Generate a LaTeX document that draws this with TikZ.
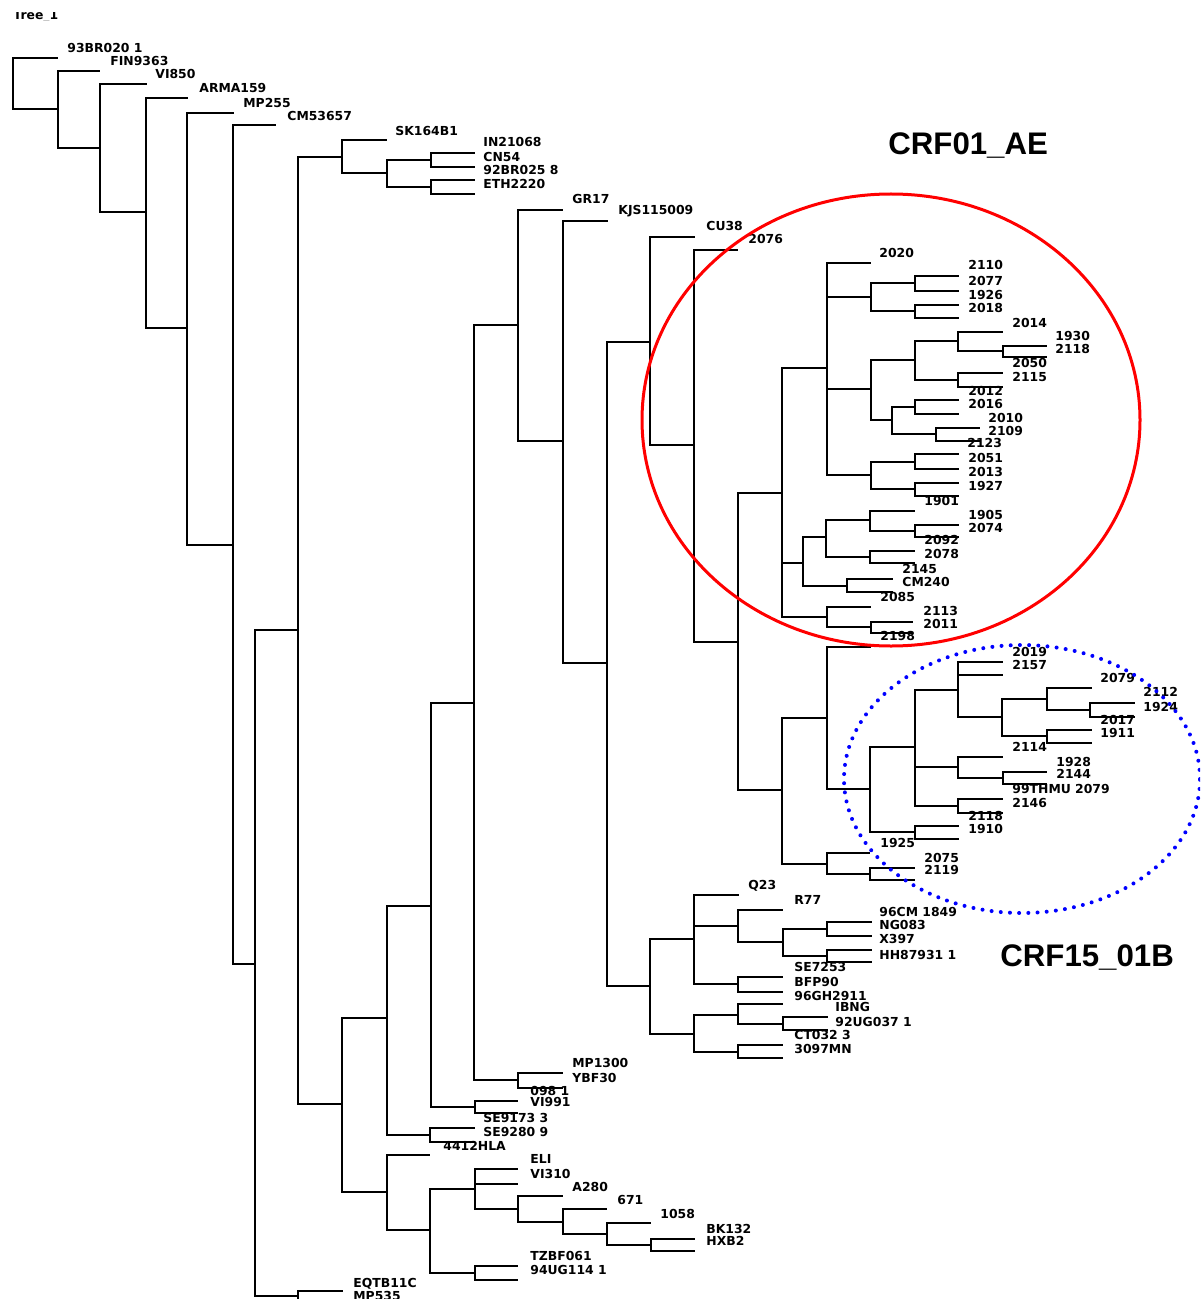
\documentclass[tikz,border=0pt]{standalone}
\usepackage{fontspec}
\newfontfamily\labfont{DejaVu Sans}
\newfontfamily\crffont{Liberation Sans}
\begin{document}
\begin{tikzpicture}[x=0.5pt,y=-0.5pt,
  br/.style={line width=0.85pt},
  lbl/.style={anchor=west, inner sep=0pt, font=\labfont\bfseries\fontsize{6.2}{7}\selectfont, text height=4.5pt, text depth=0pt},
  crf/.style={anchor=base west, inner sep=0pt, font=\crffont\bfseries\fontsize{15.6}{18}\selectfont}]
\useasboundingbox (0,0) rectangle (1200,1299);
\clip (0,0) rectangle (1200,1299);
\fill[white] (0,0) rectangle (1200,1299);
% internal nodes
\foreach \n/\x/\y in {r0/13/83,r1/58/109,r2/100/148,r3/146/212,r4/187/328,r5/233/545,r6/255/964,r7/298/630,r8/298/1296,
 a1/342/157,a2/387/173,a3/431/160,a4/431/187,b1/342/1104,b2/387/1018,b3/387/1192,c1/431/906,c2/430/1135,
 d1/474/703,d2/475/1107,e1/518/325,e2/518/1080,f1/563/441,g1/607/663,h1/650/342,h2/650/986,i1/694/445,j1/738/642,
 k1/782/493,k2/782/790,m1/827/368,m2/803/563,m3/827/617,n1/871/297,n2/871/389,n3/871/475,o1/915/283,o2/915/311,
 o3/915/360,o4/892/420,o5/915/407,o6/936/434,o7/915/462,o8/915/489,p1/958/341,p2/958/380,q1/1003/351,
 s1/826/537,s2/847/586,t1/870/520,t2/870/557,u1/915/531,v1/871/627,w1/827/718,w2/827/864,x1/870/789,
 y1/915/747,y2/915/832,z1/958/690,z2/958/767,z3/958/806,z4/1002/717,aa1/1047/699,aa2/1047/736,ab1/1090/710,
 ac1/1003/778,ad1/870/874,ae1/694/939,ae2/694/1034,af1/738/926,af2/738/984,ag1/783/942,ah1/827/929,ah2/827/956,
 ai1/738/1015,ai2/738/1052,aj1/783/1024,ak1/430/1230,al1/475/1189,al2/475/1273,am1/518/1209,an1/563/1222,
 ao1/607/1234,ap1/651/1245}
 {\coordinate (\n) at (\x,\y);}
% internal branches
\foreach \p/\c in {r0/r1,r1/r2,r2/r3,r3/r4,r4/r5,r5/r6,r6/r7,r6/r8,r7/a1,r7/b1,a1/a2,a2/a3,a2/a4,b1/b2,b1/b3,
 b2/c1,b2/c2,c1/d1,c1/d2,d1/e1,d1/e2,e1/f1,f1/g1,g1/h1,g1/h2,h1/i1,i1/j1,j1/k1,j1/k2,k1/m1,k1/m2,k1/m3,
 m1/n1,m1/n2,m1/n3,n1/o1,n1/o2,n2/o3,n2/o4,o3/p1,o3/p2,p1/q1,o4/o5,o4/o6,n3/o7,n3/o8,m2/s1,m2/s2,s1/t1,s1/t2,
 t1/u1,m3/v1,k2/w1,k2/w2,w1/x1,x1/y1,x1/y2,y1/z1,y1/z2,y1/z3,z1/z4,z4/aa1,z4/aa2,aa1/ab1,z2/ac1,w2/ad1,
 h2/ae1,h2/ae2,ae1/af1,ae1/af2,af1/ag1,ag1/ah1,ag1/ah2,ae2/ai1,ae2/ai2,ai1/aj1,b3/ak1,ak1/al1,ak1/al2,
 al1/am1,am1/an1,an1/ao1,ao1/ap1}
 {\draw[br] (\p) |- (\c);}
% leaves
\foreach \p/\x/\y [count=\i] in {r0/58/58,r1/100/71,r2/147/84,r3/188/98,r4/234/113,r5/276/125,r8/343/1291,r8/343/1302,
 a1/387/140,a3/475/153,a3/475/167,a4/475/180,a4/475/194,c2/475/1128,c2/475/1142,d2/518/1101,d2/518/1113,
 e2/563/1073,e2/563/1088,e1/563/210,f1/608/221,h1/695/237,i1/738/250,m1/871/263,o1/959/276,o1/959/291,
 o2/959/305,o2/959/318,p1/1003/332,q1/1047/346,q1/1047/357,p2/1003/373,p2/1003/387,o5/959/400,o5/959/414,
 o6/980/428,o6/980/441,o7/959/454,o7/959/469,o8/959/483,o8/959/496,t1/915/511,u1/959/525,u1/959/537,
 t2/915/551,t2/915/563,s2/893/579,s2/893/592,m3/871/607,v1/913/622,v1/913/633,w1/871/647,z1/1003/662,
 z1/1003/675,aa1/1092/688,ab1/1135/703,ab1/1135/717,aa2/1092/730,aa2/1092/743,z2/1003/757,ac1/1047/772,
 ac1/1047/784,z3/1003/799,z3/1003/813,y2/959/826,y2/959/839,w2/870/853,ad1/915/868,ad1/915/880,ae1/739/895,
 af1/783/910,ah1/872/922,ah1/872/936,ah2/872/950,ah2/872/962,af2/783/977,af2/783/992,ai1/783/1004,
 aj1/828/1017,aj1/828/1030,ai2/783/1045,ai2/783/1058,b3/430/1155,al1/518/1169,al1/518/1184,am1/563/1196,
 an1/607/1209,ao1/651/1223,ap1/695/1239,ap1/695/1251,al2/518/1266,al2/518/1280}
 {\coordinate (lf\i) at (\x,\y); \draw[br] (\p) |- (lf\i);}
% labels
\foreach \x/\y/\t [count=\i] in {67/48/93BR020 1,110/61/FIN9363,155/74/VI850,199/88/ARMA159,243/103/MP255,
 287/116/CM53657,395/131/SK164B1,483/142/IN21068,483/157/CN54,483/170/92BR025 8,483/184/ETH2220,
 572/199/GR17,618/210/KJS115009,706/226/CU38,748/239/2076,879/253/2020,968/265/2110,968/281/2077,
 968/295/1926,968/308/2018,1012/323/2014,1055/336/1930,1055/349/2118,1012/363/2050,1012/377/2115,
 968/391/2012,968/404/2016,988/418/2010,988/431/2109,967/443/2123,968/458/2051,968/472/2013,968/486/1927,
 924/501/1901,968/515/1905,968/528/2074,924/540/2092,924/554/2078,902/569/2145,902/582/CM240,880/597/2085,
 923/611/2113,923/624/2011,880/636/2198,1012/652/2019,1012/665/2157,1100/678/2079,1143/692/2112,
 1143/707/1924,1100/720/2017,1100/733/1911,1012/747/2114,1056/762/1928,1056/774/2144,1012/789/99THMU 2079,
 1012/803/2146,968/816/2118,968/829/1910,880/843/1925,924/858/2075,924/870/2119,748/885/Q23,794/900/R77,
 879/912/96CM 1849,879/925/NG083,879/939/X397,879/955/HH87931 1,794/967/SE7253,794/982/BFP90,
 794/996/96GH2911,835/1007/IBNG,835/1022/92UG037 1,794/1035/CT032 3,794/1049/3097MN,572/1063/MP1300,
 572/1078/YBF30,530/1091/098 1,530/1102/VI991,483/1118/SE9173 3,483/1132/SE9280 9,443/1146/4412HLA,
 530/1159/ELI,530/1174/VI310,572/1187/A280,617/1200/671,660/1214/1058,706/1229/BK132,706/1241/HXB2,
 530/1256/TZBF061,530/1270/94UG114 1,353/1283/EQTB11C,353/1296/MP535}
 {\node[lbl] (lb\i) at (\x,\y) {\t};}
% clade outlines
\draw[red, line width=1.5pt] (891,420) ellipse [x radius=124.5pt, y radius=113pt];
\draw[blue, line width=2pt, line cap=round, dash pattern=on 0pt off 4.6pt] (1022,779) ellipse [x radius=89pt, y radius=67pt];
\node[crf] (crfa) at (888,155) {CRF01\_AE};
\node[crf] (crfb) at (1000,966) {CRF15\_01B};
% cropped title
\begin{scope}
\clip (0,13) rectangle (120,21);
\node[lbl, anchor=base west] (ttl) at (13,20) {Tree\_1};
\end{scope}
\end{tikzpicture}
\end{document}
